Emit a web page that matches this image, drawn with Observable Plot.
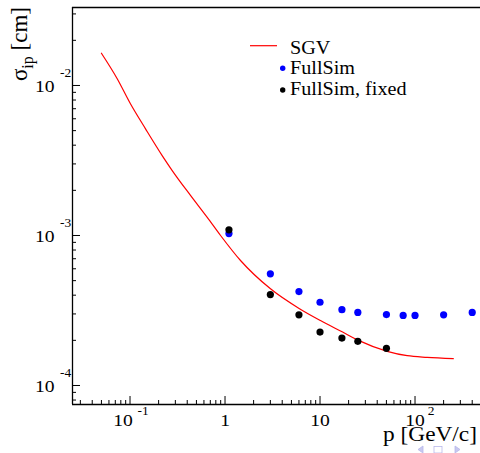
<!DOCTYPE html>
<html><head><meta charset="utf-8">
<script src="https://cdn.jsdelivr.net/npm/d3@7"></script>
<script src="https://cdn.jsdelivr.net/npm/@observablehq/plot@0.6"></script>
<style>
html,body{margin:0;padding:0;background:#fff;}
#chart{position:relative;width:480px;height:453px;overflow:hidden;}
</style>
</head><body><div id="chart"></div>
<script>
// ---- data ----
const sgvP = [0.05, 0.0733, 0.101, 0.1456, 0.218, 0.278, 0.433, 0.65, 0.897, 1.456, 3.01, 6.08, 10.1, 17.3, 25.4, 51, 82.7, 134, 253];
const sgvSigma = [0.0164, 0.01109, 7.55e-3, 5.14e-3, 3.41e-3, 2.71e-3, 1.85e-3, 1.32e-3, 1.0e-3, 6.81e-4, 4.41e-4, 3.25e-4, 2.71e-4, 2.27e-4, 2.0e-4, 1.69e-4, 1.58e-4, 1.54e-4, 1.51e-4];
const fullP = [1.1, 3, 6, 10, 17, 25, 50, 75, 100, 200, 400];
const fullSigma = [1.03e-3, 5.55e-4, 4.23e-4, 3.59e-4, 3.20e-4, 3.07e-4, 2.97e-4, 2.93e-4, 2.93e-4, 2.96e-4, 3.07e-4];
const fixedP = [1.1, 3, 6, 10, 17, 25, 50];
const fixedSigma = [1.09e-3, 4.04e-4, 2.96e-4, 2.27e-4, 2.07e-4, 1.97e-4, 1.77e-4];

const xMajor = [0.1, 1, 10, 100];
const xBase = ["10", "1", "10", "10"];
const xExp = ["-1", "", "", "2"];
const yMajor = [1e-4, 1e-3, 1e-2];
const yBase = ["10", "10", "10"];
const yExp = ["-4", "-3", "-2"];
const seriesNames = ["SGV", "FullSim", "FullSim, fixed"];
const xTitle = "p [GeV/c]";

// ---- layout ----
const W = 480, H = 453;
const xDomain = [0.0248, 489];
const yDomain = [7.47e-5, 0.0331];
const FONT = "Liberation Serif, Times New Roman, serif";

function minorTicks(dom) {
  const out = [];
  for (let e = Math.floor(Math.log10(dom[0])); e <= Math.ceil(Math.log10(dom[1])); e++) {
    for (let m = 2; m <= 9; m++) {
      const v = m * Math.pow(10, e);
      if (v > dom[0] && v < dom[1]) out.push(v);
    }
  }
  return out;
}
const xMinor = minorTicks(xDomain);
const yMinor = minorTicks(yDomain);

const sgv = sgvP.map((p, i) => ({p, s: sgvSigma[i]}));
const full = fullP.map((p, i) => ({p, s: fullSigma[i]}));
const fixed = fixedP.map((p, i) => ({p, s: fixedSigma[i]}));

const negIdx = xMajor.map((d, i) => i).filter(i => xExp[i].startsWith("-"));
const posIdx = xMajor.map((d, i) => i).filter(i => !xExp[i].startsWith("-"));

const txt = {fontFamily: FONT, fill: "black"};

const chart = Plot.plot({
  width: W, height: H,
  marginLeft: 72, marginRight: 0, marginTop: 7, marginBottom: 49,
  style: {background: "white", fontFamily: FONT},
  x: {type: "log", domain: xDomain, axis: null},
  y: {type: "log", domain: yDomain, axis: null},
  marks: [
    // frame
    Plot.ruleY([yDomain[0]], {stroke: "black", strokeWidth: 1.3}),
    Plot.ruleY([yDomain[1]], {stroke: "black", strokeWidth: 1.3}),
    Plot.ruleX([xDomain[0]], {stroke: "black", strokeWidth: 1.3}),
    // x ticks (inside)
    Plot.ruleX(xMinor, {x: d => d, y1: yDomain[0], y2: yDomain[0], insetTop: -4, stroke: "black", strokeWidth: 1}),
    Plot.ruleX(xMajor, {x: d => d, y1: yDomain[0], y2: yDomain[0], insetTop: -8, stroke: "black", strokeWidth: 1}),
    // y ticks (inside)
    Plot.ruleY(yMinor, {y: d => d, x1: xDomain[0], x2: xDomain[0], insetRight: -4, stroke: "black", strokeWidth: 1}),
    Plot.ruleY(yMajor, {y: d => d, x1: xDomain[0], x2: xDomain[0], insetRight: -8, stroke: "black", strokeWidth: 1}),
    // y tick labels
    Plot.text(yMajor, {y: d => d, frameAnchor: "left", text: (d, i) => yBase[i], textAnchor: "end", dx: -18, dy: 1, fontSize: 17.5, ...txt}),
    Plot.text(yMajor, {y: d => d, frameAnchor: "left", text: (d, i) => yExp[i], textAnchor: "middle", dx: -7, dy: -12, fontSize: 12, ...txt}),
    // x tick labels
    Plot.text(negIdx, {x: i => xMajor[i], frameAnchor: "bottom", text: i => xBase[i], textAnchor: "middle", dx: -7, dy: 21, fontSize: 17.5, ...txt}),
    Plot.text(negIdx, {x: i => xMajor[i], frameAnchor: "bottom", text: i => xExp[i], textAnchor: "middle", dx: 13, dy: 10, fontSize: 12, ...txt}),
    Plot.text(posIdx, {x: i => xMajor[i], frameAnchor: "bottom", text: i => xBase[i], textAnchor: "middle", dx: 0, dy: 21, fontSize: 17.5, ...txt}),
    Plot.text(posIdx.filter(i => xExp[i] !== ""), {x: i => xMajor[i], frameAnchor: "bottom", text: i => xExp[i], textAnchor: "middle", dx: 16, dy: 10, fontSize: 12, ...txt}),
    // data
    Plot.line(sgv, {x: "p", y: "s", stroke: "#ff0000", strokeWidth: 1.2, curve: "monotone-x"}),
    Plot.dot(full, {x: "p", y: "s", r: 3.6, fill: "#0000ff", stroke: "none"}),
    Plot.dot(fixed, {x: "p", y: "s", r: 3.6, fill: "black", stroke: "none"})
  ]
});

document.getElementById("chart").appendChild(chart);

const svg = d3.select(chart);
// stretch horizontal text slightly (reference glyphs are wider than Times)
svg.selectAll("text").each(function() {
  const w = this.getComputedTextLength();
  if (w > 0) {
    d3.select(this).attr("textLength", (w * 1.12).toFixed(2)).attr("lengthAdjust", "spacingAndGlyphs");
  }
});

// legend
const lg = svg.append("g").attr("font-family", FONT).attr("font-size", 18).attr("fill", "black").attr("text-anchor", "start");
lg.append("line").attr("x1", 250).attr("x2", 277).attr("y1", 45.7).attr("y2", 45.7).attr("stroke", "#ff0000").attr("stroke-width", 1.2);
lg.append("circle").attr("cx", 282.7).attr("cy", 68.3).attr("r", 2.7).attr("fill", "#0000ff");
lg.append("circle").attr("cx", 282.7).attr("cy", 90).attr("r", 2.7).attr("fill", "black");
[54, 73.5, 95].forEach((yb, i) => {
  const t = lg.append("text").attr("x", 290).attr("y", yb).attr("text-anchor", "start").text(seriesNames[i]);
  const w = t.node().getComputedTextLength();
  t.attr("textLength", (w * 1.12).toFixed(2)).attr("lengthAdjust", "spacingAndGlyphs");
});

// x title
svg.append("text").attr("x", 383).attr("y", 440.5).attr("text-anchor", "start").attr("font-family", FONT).attr("font-size", 20)
  .attr("fill", "black").attr("textLength", 94).attr("lengthAdjust", "spacingAndGlyphs").text(xTitle);

// y title (rotated)
const yt = svg.append("text").attr("transform", "translate(27,7) rotate(-90)").attr("text-anchor", "end")
  .attr("font-family", FONT).attr("font-size", 23).attr("fill", "black");
yt.append("tspan").text("σ");
yt.append("tspan").attr("dy", 6).attr("font-size", 16).text("ip");
yt.append("tspan").attr("dy", -6).text(" [cm]");

// faint navigation icons (bottom right), drawn as shapes
const nav = svg.append("g").attr("fill", "#c9c9f0").attr("stroke", "#b8b8ea").attr("stroke-width", 0.8);
nav.append("path").attr("d", "M423,446 L418,449.5 L423,453 Z");
nav.append("rect").attr("x", 434).attr("y", 446.5).attr("width", 8).attr("height", 6.5).attr("fill", "none");
nav.append("path").attr("d", "M455,446 L460,449.5 L455,453 Z");
</script>
</body></html>
